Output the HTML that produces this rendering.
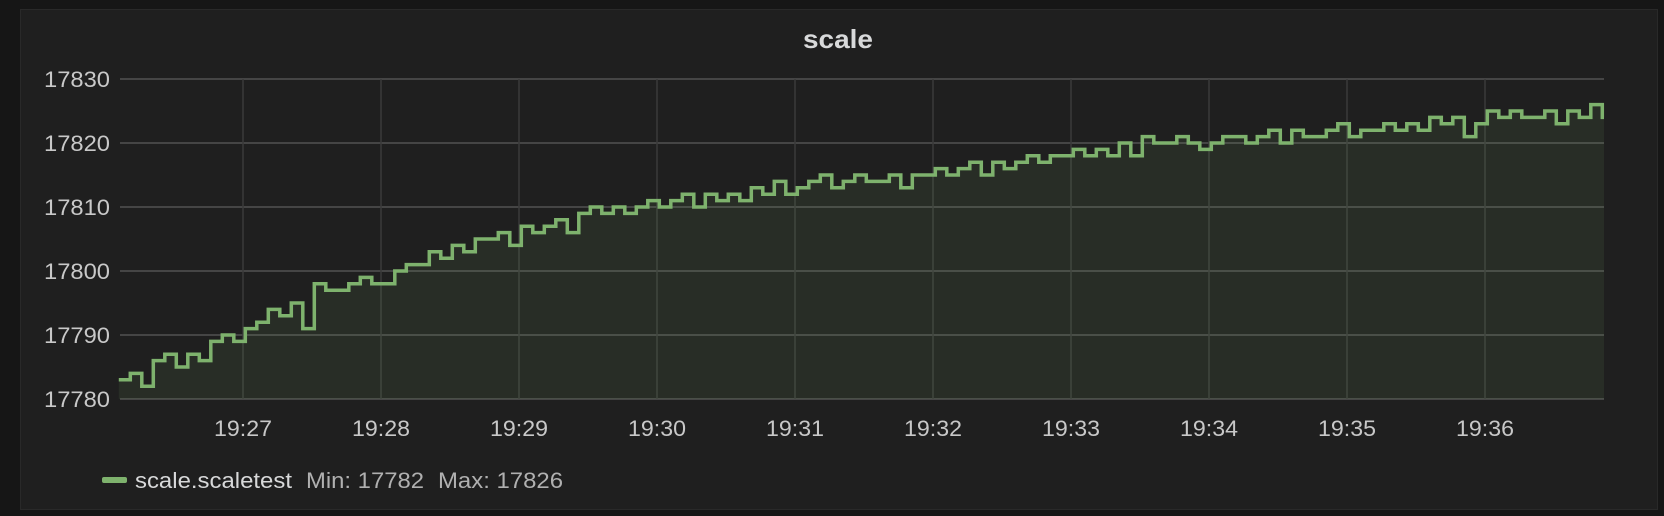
<!DOCTYPE html>
<html><head><meta charset="utf-8"><style>
html,body{margin:0;padding:0;background:#161616;}
body{width:1664px;height:516px;overflow:hidden;position:relative;font-family:"Liberation Sans",sans-serif;}
#panel{position:absolute;left:20px;top:9px;width:1638px;height:501px;background:#1f1f1f;border:1px solid #292929;box-sizing:border-box;}
svg{position:absolute;left:0;top:0;}
</style></head><body>
<div id="panel"></div>
<svg id="chart" width="1664" height="516">
<text x="838" y="48" text-anchor="middle" fill="#d8d9da" font-size="26" font-weight="bold" textLength="70" lengthAdjust="spacingAndGlyphs">scale</text>
<g id="grid"></g><g id="series"></g><g id="axes"></g>
<g>
<rect x="102" y="477" width="25" height="6" rx="2" fill="#7eb26d"></rect>
<text x="135" y="488" fill="#d8d9da" font-size="22" textLength="157" lengthAdjust="spacingAndGlyphs">scale.scaletest</text>
<text x="306" y="488" fill="#b0b0b0" font-size="22" textLength="118" lengthAdjust="spacingAndGlyphs">Min: 17782</text>
<text x="438" y="488" fill="#b0b0b0" font-size="22" textLength="125" lengthAdjust="spacingAndGlyphs">Max: 17826</text>
</g>
</svg>
<script>
const yTicks=[17780,17790,17800,17810,17820,17830];
const xTickLabels=["19:27","19:28","19:29","19:30","19:31","19:32","19:33","19:34","19:35","19:36"];
const xTickSeconds=[60,120,180,240,300,360,420,480,540,600];
const startSecond=6, stepSeconds=5;
const values=[17783,17784,17782,17786,17787,17785,17787,17786,17789,17790,17789,17791,17792,
17794,17793,17795,17791,17798,17797,17797,17798,17799,17798,17798,17800,
17801,17801,17803,17802,17804,17803,17805,17805,17806,17804,17807,17806,
17807,17808,17806,17809,17810,17809,17810,17809,17810,17811,17810,17811,
17812,17810,17812,17811,17812,17811,17813,17812,17814,17812,17813,17814,
17815,17813,17814,17815,17814,17814,17815,17813,17815,17815,17816,17815,
17816,17817,17815,17817,17816,17817,17818,17817,17818,17818,17819,17818,
17819,17818,17820,17818,17821,17820,17820,17821,17820,17819,17820,17821,
17821,17820,17821,17822,17820,17822,17821,17821,17822,17823,17821,17822,
17822,17823,17822,17823,17822,17824,17823,17824,17821,17823,17825,17824,
17825,17824,17824,17825,17823,17825,17824,17826,17824];
const NS="http://www.w3.org/2000/svg";
const L=120,R=1604,T=79,B=399;
const xs=s=>243+(s-60)*138/60;
const ys=v=>B-(v-17780)*(B-T)/50;
function mk(tag,attrs,parent){const e=document.createElementNS(NS,tag);for(const k in attrs)e.setAttribute(k,attrs[k]);parent.appendChild(e);return e;}
const grid=document.getElementById('grid'),axes=document.getElementById('axes'),ser=document.getElementById('series');
yTicks.forEach(v=>{
 const l=mk('line',{x1:L,x2:R,y1:ys(v),y2:ys(v),stroke:'#454545','stroke-width':2},grid);
 
 
 const t=mk('text',{x:44,y:ys(v)+8,fill:'#c8c8c8','font-size':22,textLength:66,lengthAdjust:'spacingAndGlyphs'},axes);
 t.textContent=v;
 
 
});
xTickSeconds.forEach((s,i)=>{
 const l=mk('line',{x1:xs(s),x2:xs(s),y1:T,y2:B,stroke:'#3a3a3a','stroke-width':1.5},grid);
 
 
 const t=mk('text',{x:xs(s)-29,y:436,fill:'#c8c8c8','font-size':22,textLength:58,lengthAdjust:'spacingAndGlyphs'},axes);
 t.textContent=xTickLabels[i];
 
 
});
let d='';
values.forEach((v,i)=>{
 const x=Math.min(R,xs(startSecond+i*stepSeconds)),y=ys(v);
 if(i===0)d+='M'+x+' '+y;else d+=' H'+x+' V'+y;
});
const lastX=Math.min(R,xs(startSecond+values.length*stepSeconds));
d+=' H'+lastX;
const x0=xs(startSecond);
const area=mk('path',{d:d+' V'+B+' H'+x0+' Z',fill:'rgba(126,178,109,0.1)'},ser);


const line=mk('path',{d:d,fill:'none',stroke:'#7eb26d','stroke-width':3.5,'stroke-linejoin':'miter'},ser);


</script>
</body></html>
